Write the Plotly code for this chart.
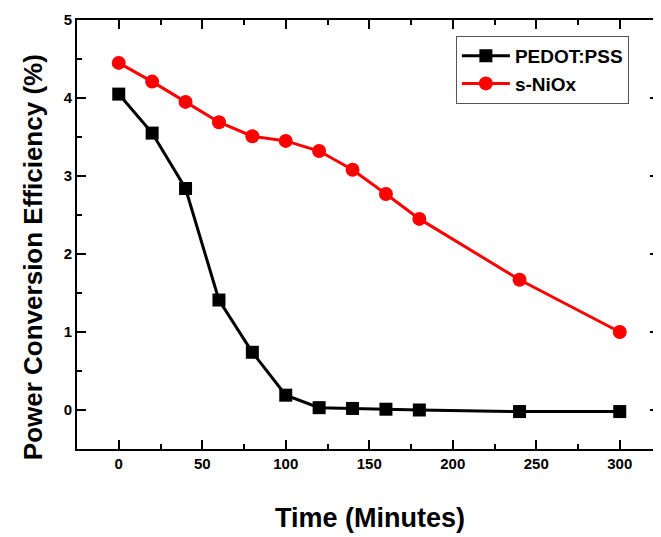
import plotly.graph_objects as go

time_min = [0, 20, 40, 60, 80, 100, 120, 140, 160, 180, 240, 300]
pedot_pss = [4.05, 3.55, 2.84, 1.41, 0.74, 0.19, 0.03, 0.02, 0.01, 0.00, -0.02, -0.02]
s_niox = [4.45, 4.21, 3.95, 3.69, 3.51, 3.45, 3.32, 3.08, 2.77, 2.45, 1.67, 1.00]

x_tick_step = 50
y_tick_step = 1

FONT = "Liberation Sans"
XR = [-25, 323.5]
YR = [-0.5, 5.0]

fig = go.Figure()
fig.add_trace(go.Scatter(
    x=time_min, y=pedot_pss, name="<b>PEDOT:PSS</b>", mode="lines+markers",
    line=dict(color="black", width=3),
    marker=dict(symbol="square", size=13, color="black"),
))
fig.add_trace(go.Scatter(
    x=time_min, y=s_niox, name="<b>s-NiOx</b>", mode="lines+markers",
    line=dict(color="#ff0000", width=3),
    marker=dict(symbol="circle", size=14, color="#ff0000"),
))

tick_common = dict(
    ticks="inside", ticklen=9, tickwidth=2, tickcolor="#000000",
    showgrid=False, zeroline=False, showline=True, linecolor="#000000",
    linewidth=2, mirror="allticks",
    tickprefix="<b>", ticksuffix="</b>",
)
minor_x = dict(ticks="inside", ticklen=5, tickwidth=2, tickcolor="#000000", dtick=x_tick_step / 2)
minor_y = dict(ticks="inside", ticklen=5, tickwidth=2, tickcolor="#000000", dtick=y_tick_step / 2)

# the page body has an 8px margin; the figure is sized to fit the 661x537 window
fig.update_layout(
    width=653, height=529,
    margin=dict(l=69, r=0, t=12, b=88),
    paper_bgcolor="white", plot_bgcolor="white",
    showlegend=True,
    xaxis=dict(
        range=XR, tickmode="linear", tick0=0, dtick=x_tick_step,
        tickfont=dict(family=FONT, size=15, color="black"),
        minor=minor_x, **tick_common,
    ),
    yaxis=dict(
        range=YR, tickmode="linear", tick0=0, dtick=y_tick_step,
        tickfont=dict(family=FONT, size=15, color="black"),
        minor=minor_y, **tick_common,
    ),
    legend=dict(
        x=0.651, y=0.963, xanchor="left", yanchor="top",
        bgcolor="white", bordercolor="#555555", borderwidth=1,
        font=dict(family=FONT, size=19, color="black"),
        tracegroupgap=0, itemwidth=48,
    ),
    shapes=[
        dict(type="rect", xref="paper", yref="paper",
             x0=0.661, x1=0.743, y0=0.893, y1=0.949,
             line=dict(color="#ff0000", width=1), fillcolor="rgba(0,0,0,0)",
             layer="above"),
    ],
    annotations=[
        dict(text="<b>Time (Minutes)</b>", xref="paper", yref="paper",
             x=0.503, y=-0.161, xanchor="center", yanchor="middle",
             showarrow=False,
             font=dict(family=FONT, size=27, color="black")),
        dict(text="<b>Power Conversion Efficiency (%)</b>", xref="paper", yref="paper",
             x=-0.0753, y=0.4476, xanchor="center", yanchor="middle",
             textangle=-90, showarrow=False,
             font=dict(family=FONT, size=26, color="black")),
    ],
)

fig.write_html("out.html")
